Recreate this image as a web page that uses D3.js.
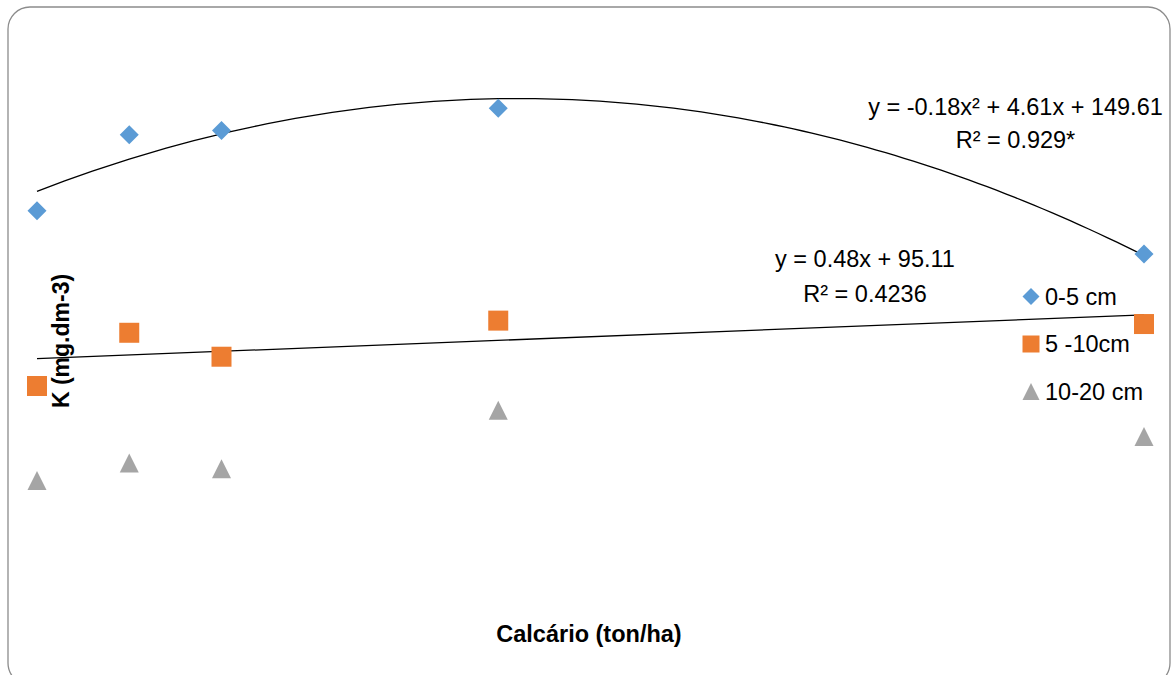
<!DOCTYPE html>
<html>
<head>
<meta charset="utf-8">
<script src="https://cdn.jsdelivr.net/npm/d3@7"></script>
<style>
  body { margin: 0; background: #fff; }
  text { font-family: "Liberation Sans", Arial, sans-serif; fill: #000; }
</style>
</head>
<body>
<div class="chart"></div>
<script>
const width = 1172,
      height = 675;

// doses of calcario (ton/ha) and K by depth
const doses = [0, 2, 4, 10, 24];
const k0_5 = [134.0, 154.0, 155.1, 161.0, 122.6];
const k5_10 = [87.9, 101.9, 95.6, 105.1, 104.2];
const k10_20 = [63.0, 67.6, 66.1, 81.5, 74.6];

const seriesNames = ["0-5 cm", "5 -10cm", "10-20 cm"];
const seriesColors = ["#5B9BD5", "#ED7D31", "#A5A5A5"];
const eqQuad = ["y = -0.18x² + 4.61x + 149.61", "R² = 0.929*"];
const eqLin = ["y = 0.48x + 95.11", "R² = 0.4236"];

const svg = d3.select(".chart").append("svg")
  .attr("width", width)
  .attr("height", height);

svg.append("rect")
  .attr("x", 8).attr("y", 7)
  .attr("width", 1162).attr("height", 678)
  .attr("rx", 22).attr("ry", 22)
  .style("fill", "#fff")
  .style("stroke", "#8c8c8c")
  .style("stroke-width", 1.3);

const x = d3.scaleLinear().domain([0, 24]).range([37, 1144]);
const y = d3.scaleLinear().domain([40, 180]).range([568, 36]);

// least squares polynomial fit (degree 1 or 2)
function polyfit(xs, ys, deg) {
  const n = deg + 1;
  const A = d3.range(n).map(i => d3.range(n).map(j => d3.sum(xs, v => Math.pow(v, i + j))));
  const b = d3.range(n).map(i => d3.sum(xs, (v, k) => Math.pow(v, i) * ys[k]));
  for (let c = 0; c < n; c++) {
    for (let r = c + 1; r < n; r++) {
      const f = A[r][c] / A[c][c];
      for (let k = c; k < n; k++) A[r][k] -= f * A[c][k];
      b[r] -= f * b[c];
    }
  }
  const coef = new Array(n).fill(0);
  for (let r = n - 1; r >= 0; r--) {
    let s = b[r];
    for (let k = r + 1; k < n; k++) s -= A[r][k] * coef[k];
    coef[r] = s / A[r][r];
  }
  return t => coef.reduce((acc, c, i) => acc + c * Math.pow(t, i), 0);
}

const line = d3.line().x(d => x(d[0])).y(d => y(d[1]));
const steps = d3.range(0, 24.001, 0.2);

const fQuad = polyfit(doses, k0_5, 2);
const fLin = polyfit(doses, k5_10, 1);

svg.append("path")
  .attr("d", line(steps.map(t => [t, fQuad(t)])))
  .style("fill", "none").style("stroke", "#000").style("stroke-width", 1.3);

svg.append("path")
  .attr("d", line([[0, fLin(0)], [24, fLin(24)]]))
  .style("fill", "none").style("stroke", "#000").style("stroke-width", 1.3);

// marker shapes
function marker(kind, s) {
  const h = s / 2;
  if (kind === 0) return `M0,${-h}L${h},0L0,${h}L${-h},0Z`;
  if (kind === 1) return `M${-h},${-h}H${h}V${h}H${-h}Z`;
  return `M0,${-h}L${h},${h}L${-h},${h}Z`;
}

[k0_5, k5_10, k10_20].forEach((vals, si) => {
  svg.selectAll("path.s" + si)
    .data(vals)
    .enter()
    .append("path")
      .attr("class", "s" + si)
      .attr("d", marker(si, si === 1 ? 20 : 19))
      .attr("transform", (d, i) => `translate(${x(doses[i])},${y(d)})`)
      .style("fill", seriesColors[si]);
});

// trendline labels
svg.selectAll("text.eq1")
  .data(eqQuad)
  .enter()
  .append("text")
    .attr("class", "eq1")
    .attr("x", 1015.5)
    .attr("y", (d, i) => 115 + i * 32.5)
    .style("text-anchor", "middle")
    .style("font-size", "23.5px")
    .text(d => d);

svg.selectAll("text.eq2")
  .data(eqLin)
  .enter()
  .append("text")
    .attr("class", "eq2")
    .attr("x", 865)
    .attr("y", (d, i) => 266.5 + i * 35)
    .style("text-anchor", "middle")
    .style("font-size", "23.5px")
    .text(d => d);

// legend
const legend = svg.selectAll("g.legend")
  .data(seriesNames)
  .enter()
  .append("g")
    .attr("class", "legend")
    .attr("transform", (d, i) => `translate(1031,${296.5 + i * 47.5})`);

legend.append("path")
  .attr("d", (d, i) => marker(i, 17))
  .style("fill", (d, i) => seriesColors[i]);

legend.append("text")
  .attr("x", 14)
  .attr("y", 8)
  .style("font-size", "23.5px")
  .text(d => d);

// axis titles
svg.append("text")
  .attr("x", 589)
  .attr("y", 642)
  .style("text-anchor", "middle")
  .style("font-weight", "bold")
  .style("font-size", "23.5px")
  .text("Calcário (ton/ha)");

svg.append("text")
  .attr("transform", "translate(69,341) rotate(-90)")
  .style("text-anchor", "middle")
  .style("font-weight", "bold")
  .style("font-size", "23px")
  .text("K (mg.dm-3)");
</script>
</body>
</html>
